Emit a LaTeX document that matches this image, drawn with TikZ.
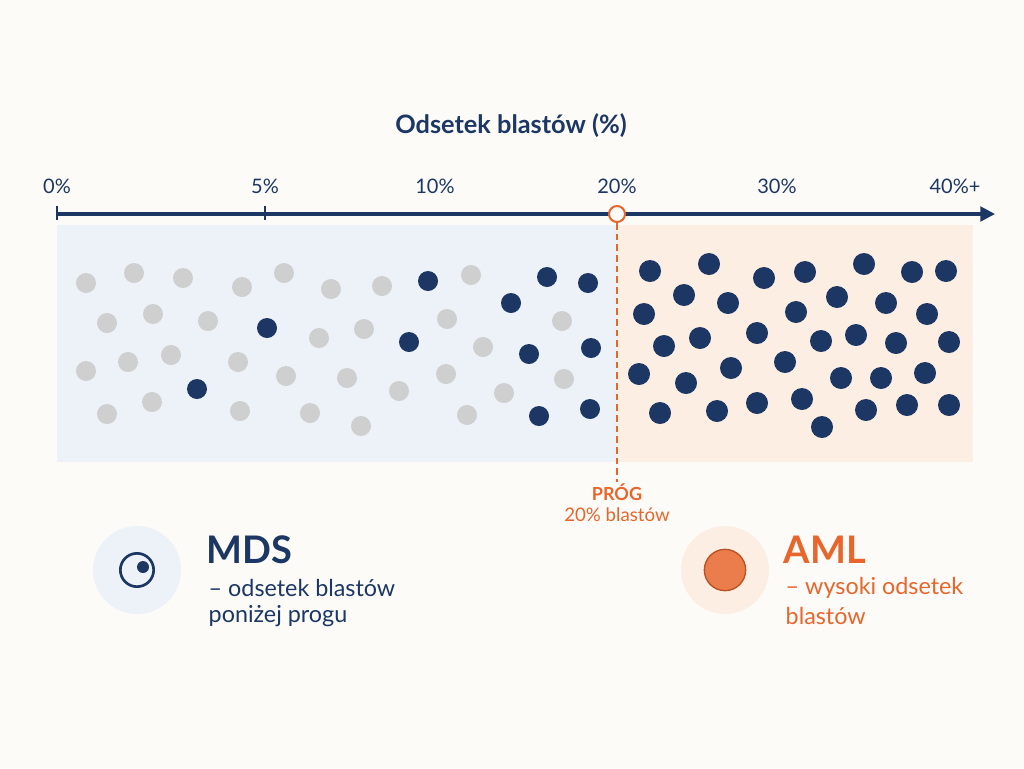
\documentclass[tikz,border=0pt]{standalone}
\usepackage{fontspec}
\setmainfont{Lato}
\usetikzlibrary{arrows.meta}
\definecolor{navy}{HTML}{1C3764}
\definecolor{org}{HTML}{E8652B}
\definecolor{gr}{HTML}{CFCFCF}
\definecolor{bg}{HTML}{FCFBF8}
\definecolor{lb}{HTML}{EDF2F9}
\definecolor{pc}{HTML}{FDEEE3}
\begin{document}
\begin{tikzpicture}[x=0.75pt,y=-0.75pt,
  g/.style={circle,fill=gr,inner sep=0,minimum size=15pt},
  d/.style={circle,fill=navy,inner sep=0,minimum size=15pt},
  D/.style={circle,fill=navy,inner sep=0,minimum size=16.5pt},
  tk/.style={font=\fontsize{15}{18}\selectfont,text=navy}]
\fill[bg] (0,0) rectangle (1024,768);
\useasboundingbox (0,0) rectangle (1024,768);
\fill[lb] (57,225) rectangle (617,462);
\fill[pc] (617,225) rectangle (973,462);
\node[font=\fontsize{19}{22}\selectfont\bfseries,text=navy] (title) at (511,126) {Odsetek blastów (\%)};
\coordinate (a0) at (57,214); \coordinate (a1) at (995,214);
\draw[navy,line width=2.3pt,-{Triangle[length=11pt,width=11pt]}] (a0) -- (a1);
\draw[navy,line width=2pt] (57,206) -- (57,220);
\draw[navy,line width=2pt] (265,206) -- (265,220);
\node[tk] (l0) at (57,186) {0\%};
\node[tk] (l5) at (265,186) {5\%};
\node[tk] (l10) at (435,186) {10\%};
\node[tk] (l20) at (617,186) {20\%};
\node[tk] (l30) at (777,186) {30\%};
\node[tk] (l40) at (955,186) {40\%+};
\node[circle,draw=org,fill=bg,line width=1.5pt,minimum size=12pt,inner sep=0] (thr) at (617,214) {};
\coordinate (tb) at (617,482);
\draw[org,line width=1.3pt,dash pattern=on 5pt off 3pt] (thr.south) -- (tb);
\node[font=\fontsize{13.5}{15}\selectfont\bfseries,text=org] (prog) at (617,492) {PRÓG};
\node[font=\fontsize{14}{16}\selectfont,text=org] (prog2) at (617,515) {20\% blastów};
\foreach \x/\y [count=\i] in {86/283,134/273,183/278,242/287,284/273,331/289,382/286,471/275,107/323,153/314,208/321,319/338,364/329,447/319,562/321,86/371,128/362,171/355,238/362,286/376,347/378,399/391,446/374,483/347,564/379,504/393,107/414,152/402,240/411,310/413,361/426,467/415}
  \node[g] (g\i) at (\x,\y) {};
\foreach \x/\y [count=\i] in {428/281,547/277,588/283,511/303,267/328,409/342,529/354,591/348,197/389,539/416,590/409}
  \node[d] (d\i) at (\x,\y) {};
\foreach \x/\y [count=\i] in {650/271,709/264,764/278,805/272,864/264,912/272,946/271,684/295,728/303,837/297,886/303,644/314,796/312,927/314,664/346,700/338,757/333,821/341,856/335,896/343,949/342,639/374,731/368,785/362,686/383,841/378,881/378,925/373,660/413,717/411,757/403,802/399,822/427,866/410,907/405,949/405}
  \node[D] (r\i) at (\x,\y) {};
\node[circle,fill=lb,minimum size=66pt,inner sep=0] (mdsc) at (137,570) {};
\node[circle,draw=navy,line width=2pt,minimum size=25pt,inner sep=0] (ring) at (137,570) {};
\node[circle,fill=navy,minimum size=9pt,inner sep=0] (core) at (143,567) {};
\node[anchor=west,font=\fontsize{28.5}{32}\selectfont\bfseries,text=navy] (mds) at (202,550) {MDS};
\node[anchor=west,font=\fontsize{17.5}{20}\selectfont,text=navy] (mds1) at (204,588) {– odsetek blastów};
\node[anchor=west,font=\fontsize{17.5}{20}\selectfont,text=navy] (mds2) at (204,616) {poniżej progu};
\node[circle,fill=pc,minimum size=66pt,inner sep=0] (amlc) at (725,570) {};
\node[circle,fill=org!85,draw=org!80!black,line width=1pt,minimum size=31pt,inner sep=0] (amld) at (725,570) {};
\node[anchor=west,font=\fontsize{28.5}{32}\selectfont\bfseries,text=org] (aml) at (779,550) {AML};
\node[anchor=west,font=\fontsize{17.5}{20}\selectfont,text=org] (aml1) at (781,588) {– wysoki odsetek};
\node[anchor=west,font=\fontsize{17.5}{20}\selectfont,text=org] (aml2) at (781,616) {blastów};
\end{tikzpicture}
\end{document}
